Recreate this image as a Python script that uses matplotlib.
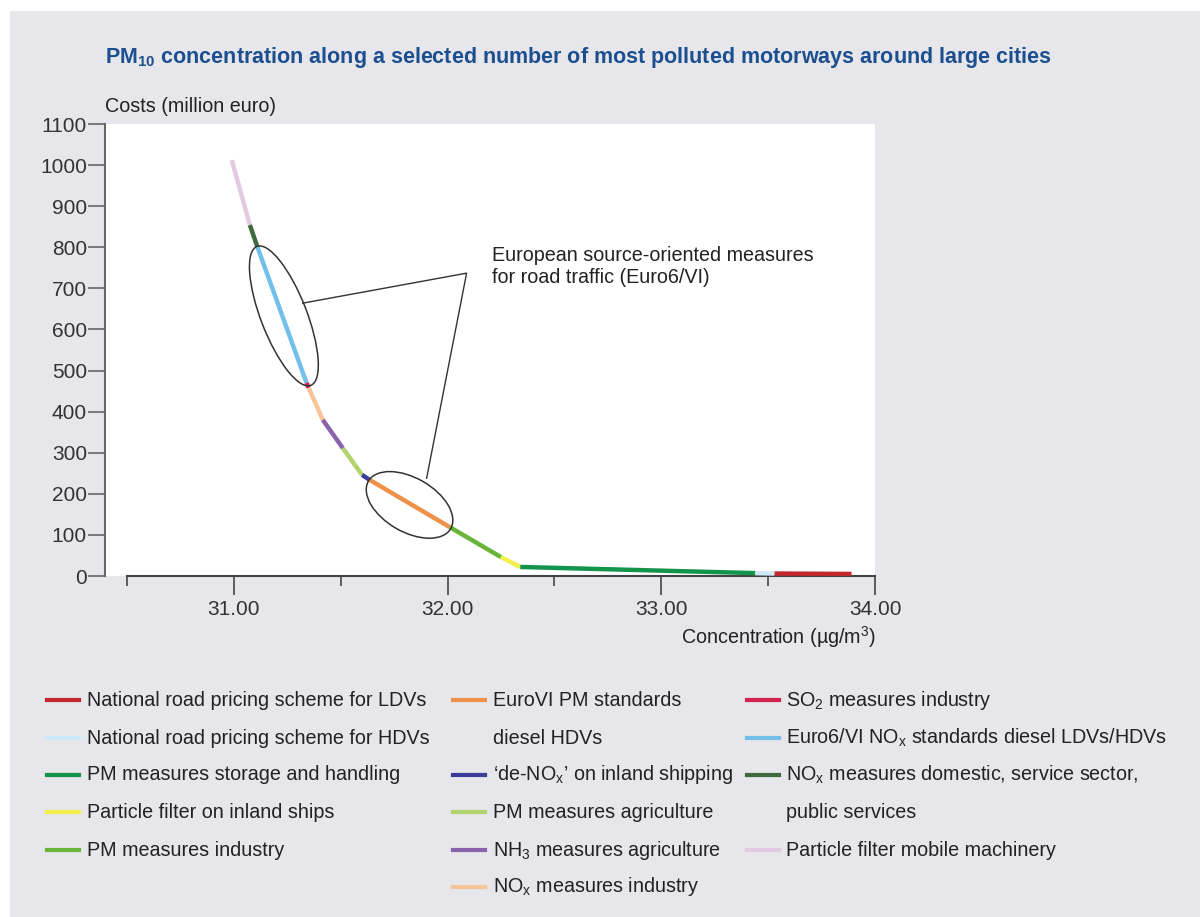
import numpy as np
import matplotlib.pyplot as plt
from matplotlib.lines import Line2D
from matplotlib.patches import Ellipse, Rectangle
from matplotlib import transforms

plt.rcParams['font.family'] = ['Liberation Sans', 'DejaVu Sans']
plt.rcParams['mathtext.fontset'] = 'custom'
plt.rcParams['mathtext.rm'] = 'Liberation Sans'
plt.rcParams['mathtext.it'] = 'Liberation Sans'
plt.rcParams['mathtext.bf'] = 'Liberation Sans:bold'

# cost curve breakpoints (concentration, cost), from high cost to low cost
conc = [30.99, 31.075, 31.11, 31.34, 31.35, 31.416, 31.51, 31.60, 31.635,
        32.01, 32.25, 32.34, 33.44, 33.53, 33.89]
cost = [1012, 854, 801, 470, 458, 380, 311, 246, 234,
        119, 46, 22, 7, 6, 5]

# measure that covers each piece between two breakpoints
seg_measure = [
    "Particle filter mobile machinery",
    "NOx domestic",
    "Euro6/VI NOx",
    "SO2 industry",
    "NOx industry",
    "NH3 agriculture",
    "PM agriculture",
    "de-NOx shipping",
    "EuroVI PM",
    "PM industry",
    "Particle filter ships",
    "PM storage",
    "Pricing HDVs",
    "Pricing LDVs",
]

colors = {
    "Pricing LDVs": "#c1272d",
    "Pricing HDVs": "#cde8f6",
    "PM storage": "#12944a",
    "Particle filter ships": "#f3ef4c",
    "PM industry": "#68b539",
    "EuroVI PM": "#f0914b",
    "de-NOx shipping": "#3c3c99",
    "PM agriculture": "#b2d46c",
    "NH3 agriculture": "#8a62ad",
    "NOx industry": "#f8c497",
    "SO2 industry": "#d12350",
    "Euro6/VI NOx": "#72c0e9",
    "NOx domestic": "#3e6a3c",
    "Particle filter mobile machinery": "#e4c9e3",
}

# legend: three columns, (key, label); key None = continuation line
legend_cols = [
    [("Pricing LDVs", "National road pricing scheme for LDVs"),
     ("Pricing HDVs", "National road pricing scheme for HDVs"),
     ("PM storage", "PM measures storage and handling"),
     ("Particle filter ships", "Particle filter on inland ships"),
     ("PM industry", "PM measures industry")],
    [("EuroVI PM", "EuroVI PM standards"),
     (None, "diesel HDVs"),
     ("de-NOx shipping", "\u2018de-NO$_\\mathregular{x}$\u2019 on inland shipping"),
     ("PM agriculture", "PM measures agriculture"),
     ("NH3 agriculture", "NH$_\\mathregular{3}$ measures agriculture"),
     ("NOx industry", "NO$_\\mathregular{x}$ measures industry")],
    [("SO2 industry", "SO$_\\mathregular{2}$ measures industry"),
     ("Euro6/VI NOx", "Euro6/VI NO$_\\mathregular{x}$ standards diesel LDVs/HDVs"),
     ("NOx domestic", "NO$_\\mathregular{x}$ measures domestic, service sector,"),
     (None, "public services"),
     ("Particle filter mobile machinery", "Particle filter mobile machinery")],
]

bg = "#e6e6eb"
txt = "#222222"
fs = 14.2

fig = plt.figure(figsize=(12, 9.17), dpi=100, facecolor="white")
fig.patches.append(Rectangle((10 / 1200, 0), 1, 1 - 11 / 917, transform=fig.transFigure,
                             facecolor=bg, edgecolor="none", zorder=-10))

ax = fig.add_axes([105 / 1200, 1 - 576 / 917, 770 / 1200, 452 / 917])
ax.set_facecolor("white")

for i, key in enumerate(seg_measure):
    ax.plot(conc[i:i + 2], cost[i:i + 2], color=colors[key], lw=3.2,
            solid_capstyle="butt", zorder=3)

# ellipses around the Euro6/VI measures (sizes in inches)
def ring(cx, cy, w, h, ang):
    tr = fig.dpi_scale_trans + transforms.ScaledTranslation(cx, cy, ax.transData)
    ax.add_patch(Ellipse((0, 0), w, h, angle=ang, transform=tr, fill=False,
                         edgecolor="#333333", lw=1.1, zorder=4))

ring(31.234, 633, 1.49, 0.46, -68.8)
ring(31.822, 173, 0.95, 0.54, -30.0)

ax.plot([31.322, 32.089, 31.902], [664, 737, 238], color="#333333", lw=1.0, zorder=4)
ax.text(32.21, 802, "European source-oriented measures\nfor road traffic (Euro6/VI)",
        fontsize=fs, color=txt, va="top", ha="left", linespacing=1.2)

ax.set_xlim(30.397, 34.0)
ax.set_ylim(0, 1100)
for s in ("top", "right"):
    ax.spines[s].set_visible(False)
ax.spines["left"].set_color("#666666")
ax.spines["left"].set_linewidth(1.5)
ax.spines["bottom"].set_color("#444444")
ax.spines["bottom"].set_linewidth(1.5)
ax.spines["bottom"].set_bounds(30.5, 34.0)

ax.set_yticks(np.arange(0, 1101, 100))
ax.set_xticks([31, 32, 33, 34])
ax.set_xticklabels(["31.00", "32.00", "33.00", "34.00"])
ax.set_xticks([30.5, 31.5, 32.5, 33.5], minor=True)
ax.tick_params(axis="y", length=12, width=1.2, color="#666666", labelsize=15,
               labelcolor="#333333", pad=1)
ax.tick_params(axis="x", which="major", length=14, width=1.2, color="#444444",
               labelsize=15, labelcolor="#333333", pad=3)
ax.tick_params(axis="x", which="minor", length=7, width=1.2, color="#444444")

fig.text(105 / 1200, 1 - 106 / 917, "Costs (million euro)", fontsize=fs,
         color=txt, va="center", ha="left")
fig.text(876 / 1200, 1 - 637 / 917, "Concentration (\u00b5g/m$^\\mathregular{3}$)",
         fontsize=fs, color=txt, va="center", ha="right")
fig.text(105 / 1200, 1 - 58 / 917,
         "PM$_\\mathbf{10}$ concentration along a selected number of most polluted motorways around large cities",
         fontsize=15.5, fontweight="bold", color="#1c4f8f", va="center", ha="left")

# legend drawn in figure pixels
col_x = [(47, 87), (453, 493), (747, 786)]
row_y = [700, 738, 775, 812, 850, 887]
for (hx, tx), entries in zip(col_x, legend_cols):
    for r, (key, label) in enumerate(entries):
        y = 1 - row_y[r] / 917
        if key is not None:
            fig.add_artist(Line2D([hx / 1200, (hx + 32) / 1200], [y, y],
                                  transform=fig.transFigure, color=colors[key], lw=3))
        fig.text(tx / 1200, y, label, fontsize=fs, color=txt,
                 va="center", ha="left")

fig.savefig("out.png", dpi=100, facecolor=fig.get_facecolor())
